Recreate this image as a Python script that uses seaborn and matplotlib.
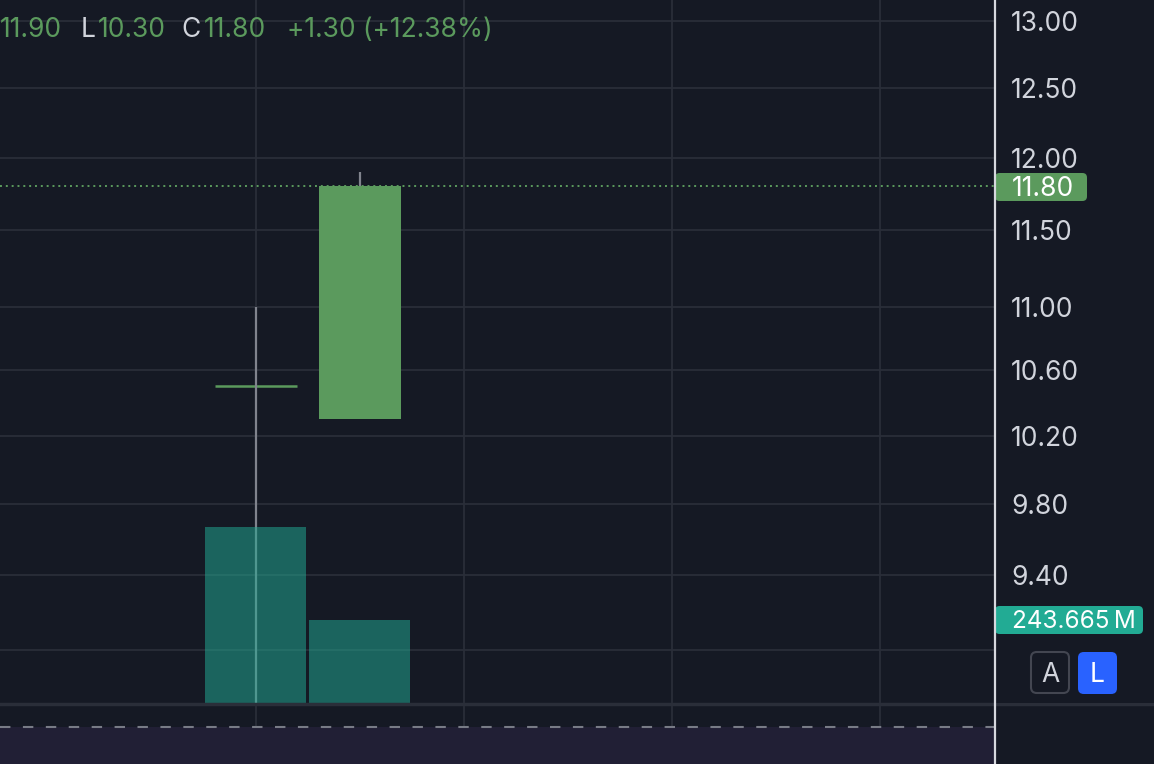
import numpy as np
import pandas as pd
import matplotlib
matplotlib.use("Agg")
import matplotlib.pyplot as plt
from matplotlib.patches import FancyBboxPatch, Rectangle
from matplotlib.lines import Line2D
from matplotlib.ticker import FixedLocator, FixedFormatter, NullLocator
import seaborn as sns

# ---------------- data ----------------
bar_index = [0, 1]
opens = [10.50, 10.30]
highs = [11.00, 11.90]
lows = [8.50, 10.30]
closes = [10.50, 11.80]
volumes_m = [516.7, 243.665]          # millions
price_ticks = [9.00, 9.40, 9.80, 10.20, 10.60, 11.00, 11.50, 12.00, 12.50, 13.00]
last_price = 11.80
last_volume_label = "243.665\u2009M"
legend_parts = [("11.90", "up"), ("L", "lab"), ("10.30", "up"), ("C", "lab"),
                ("11.80", "up"), ("+1.30 (+12.38%)", "up")]
lower_pane_label = "80.00"

# ---------------- style ----------------
BG = "#151924"
GRID = "#2a2e39"
UP = "#5b9a5d"
VOL = "#22ab94"
WICK = "#80838d"
TXT = "#d1d4dc"
sns.set_theme(style="dark")
plt.rcParams["font.family"] = ["Inter", "DejaVu Sans"]
FS = 19

W, H = 1154, 764
fig = plt.figure(figsize=(W / 100, H / 100), dpi=100, facecolor=BG)

def fx(x):
    return x / W

def fy(y):
    return 1 - y / H

AX_R = 995
MAIN_B = 703
main_rect = [0, fy(MAIN_B), fx(AX_R), MAIN_B / H]

# price axes (behind)
ax = fig.add_axes(main_rect, zorder=1)
ax.set_facecolor(BG)
# volume axes (front, transparent)
ax_v = fig.add_axes(main_rect, zorder=2, sharex=ax)
ax_v.patch.set_alpha(0)

df_vol = pd.DataFrame({"i": bar_index, "v": volumes_m})
sns.barplot(data=df_vol, x="i", y="v", native_scale=True, width=0.97,
            color=VOL, saturation=1, alpha=0.52, ax=ax_v, zorder=3,
            edgecolor="none", linewidth=0)
ax_v.set_ylim(0, 2064)
ax_v.set_xlabel(""); ax_v.set_ylabel("")
ax_v.set_yticks([])
ax_v.tick_params(axis="x", length=0, labelbottom=False)
ax_v.grid(False)
for s in ax_v.spines.values():
    s.set_visible(False)

# price axes
ax.set_yscale("log")
ax.set_ylim(8.724, 13.159)
ax.set_xlim(-2.46, 7.11)
ax.set_xticks([0, 2, 4, 6])
ax.yaxis.set_major_locator(FixedLocator(price_ticks))
ax.yaxis.set_major_formatter(FixedFormatter([f"{t:.2f}" for t in price_ticks]))
ax.yaxis.set_minor_locator(NullLocator())
ax.yaxis.tick_right()
ax.tick_params(axis="y", length=0, pad=11.5, labelsize=FS, labelcolor=TXT)
ax.tick_params(axis="x", length=0, labelbottom=False)
ax.grid(True, color=GRID, lw=1.3, zorder=0)
ax.set_axisbelow(True)
ax.set_xlabel(""); ax.set_ylabel("")
for s in ax.spines.values():
    s.set_visible(False)

body_w = 0.79
for i, o, h, l, c in zip(bar_index, opens, highs, lows, closes):
    col = UP if c >= o else "#ef5350"
    top, bot = max(o, c), min(o, c)
    ax.vlines(i, top, h, color=WICK, lw=1.6, zorder=4)
    ax.vlines(i, l, bot, color=WICK, lw=1.6, zorder=4)
    if abs(c - o) < 1e-9:
        ax.hlines(o, i - body_w / 2, i + body_w / 2, color=col, lw=1.8, zorder=3)
    else:
        ax.bar(i, top - bot, bottom=bot, width=body_w, color=col, lw=0, zorder=3)

ax.axhline(last_price, color=UP, lw=1.4, linestyle=(0, (1, 2)), zorder=6)

# ---------------- lower pane ----------------
ax_l = fig.add_axes([0, 0, fx(AX_R), (H - 704) / H], zorder=1)
ax_l.set_facecolor(BG)
ax_l.set_xlim(-2.46, 7.11)
ax_l.set_ylim(0, 60)
ax_l.axhspan(0, 37, color="#211f35", lw=0, zorder=1)
ax_l.axhline(37, color="#787b86", lw=1.5, linestyle=(0, (5, 6)), zorder=3)
ax_l.set_xticks([0, 2, 4, 6])
ax_l.set_yticks([])
ax_l.tick_params(axis="x", length=0, labelbottom=False)
ax_l.grid(True, axis="x", color=GRID, lw=1.3, zorder=2)
ax_l.grid(False, axis="y")
for s in ax_l.spines.values():
    s.set_visible(False)

# separator between panes
fig.add_artist(Line2D([0, 1], [fy(704), fy(704)], color=GRID, lw=2.5, zorder=8))

# ---------------- right scale overlays ----------------
fig.add_artist(FancyBboxPatch((fx(995), fy(201)), fx(1087) - fx(995), fy(173) - fy(201),
                              boxstyle="round,pad=0,rounding_size=0.004",
                              facecolor=UP, edgecolor="none", zorder=10,
                              transform=fig.transFigure, mutation_aspect=W / H))
fig.text(fx(1012), fy(189), f"{last_price:.2f}", color="white", fontsize=FS,
         ha="left", va="center", zorder=11)
# background behind buttons (covers most of the 9.00 label)
fig.add_artist(Rectangle((fx(996), fy(703)), 1 - fx(996), fy(640) - fy(703),
                         facecolor=BG, edgecolor="none", zorder=9,
                         transform=fig.transFigure))
fig.add_artist(FancyBboxPatch((fx(995), fy(634)), fx(1143) - fx(995), fy(606) - fy(634),
                              boxstyle="round,pad=0,rounding_size=0.004",
                              facecolor=VOL, edgecolor="none", zorder=10,
                              transform=fig.transFigure, mutation_aspect=W / H))
fig.text(fx(1012), fy(622), last_volume_label, color="white", fontsize=17.5,
         ha="left", va="center", zorder=11)
# A / L buttons
fig.add_artist(FancyBboxPatch((fx(1031), fy(693)), fx(1069) - fx(1031), fy(652) - fy(693),
                              boxstyle="round,pad=0,rounding_size=0.005",
                              facecolor=BG, edgecolor="#434651", lw=1.5, zorder=10,
                              transform=fig.transFigure, mutation_aspect=W / H))
fig.text(fx(1050), fy(675), "A", color=TXT, fontsize=FS, ha="center", va="center", zorder=11)
fig.add_artist(FancyBboxPatch((fx(1078), fy(694)), fx(1117) - fx(1078), fy(652) - fy(694),
                              boxstyle="round,pad=0,rounding_size=0.005",
                              facecolor="#2962ff", edgecolor="none", zorder=10,
                              transform=fig.transFigure, mutation_aspect=W / H))
fig.text(fx(1097.5), fy(675), "L", color="white", fontsize=FS, ha="center", va="center", zorder=11)

# lower pane scale label (mostly cut off, as in the reference)
fig.text(fx(1012), fy(779), lower_pane_label, color=TXT, fontsize=FS,
         ha="left", va="center", zorder=11)

# price scale border
fig.add_artist(Line2D([fx(AX_R), fx(AX_R)], [0, 1], color="#d6d8de", lw=1.6, zorder=12))

# ---------------- top legend ----------------
legend_x = [0, 81, 98, 181, 204, 287]
for (txt, kind), x in zip(legend_parts, legend_x):
    fig.text(fx(x), fy(30), txt, color=UP if kind == "up" else TXT, fontsize=FS,
             ha="left", va="center", zorder=11)

fig.savefig("out.png", dpi=100, facecolor=BG)
